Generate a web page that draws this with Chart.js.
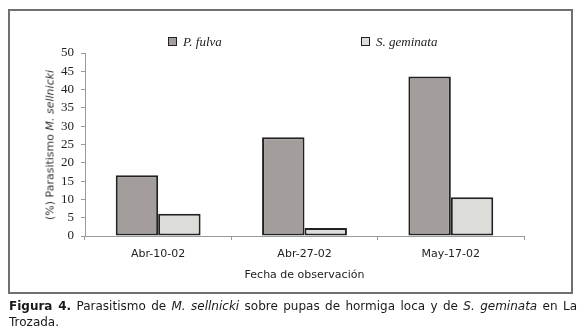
<!DOCTYPE html>
<html lang="es">
<head>
    <meta charset="UTF-8">
    <title>Figura 4</title>
    <script src="https://cdn.jsdelivr.net/npm/chart.js"></script>
    <style>
        body {
            margin: 0;
            width: 580px;
            height: 335px;
            background: #fff;
            position: relative;
            overflow: hidden;
            font-family: "DejaVu Sans", Verdana, sans-serif;
            color: #222;
        }
        .frame {
            position: absolute;
            left: 8px;
            top: 9px;
            width: 561px;
            height: 281px;
            border: 2px solid #707070;
        }
        .chart-box {
            position: absolute;
            left: 0;
            top: 0;
            width: 580px;
            height: 300px;
        }
        .legend-item {
            position: absolute;
            top: 35px;
            font-family: "Liberation Serif", serif;
            font-style: italic;
            font-size: 13px;
            line-height: 14px;
            white-space: nowrap;
        }
        .legend-item span.box {
            display: inline-block;
            width: 7px;
            height: 7px;
            border: 1px solid #222;
            margin-right: 6px;
            vertical-align: 0px;
        }
        .y-title {
            position: absolute;
            left: 50px;
            top: 145px;
            transform: translate(-50%, -50%) rotate(-90deg);
            font-size: 11px;
            font-weight: normal;
            white-space: nowrap;
            color: #333;
        }
        .caption {
            position: absolute;
            left: 9px;
            top: 298px;
            width: 568px;
            font-size: 12px;
            line-height: 16px;
            text-align: justify;
            text-align-last: left;
            color: #1a1a1a;
        }
    </style>
</head>
<body>
    <div class="frame"></div>
    <div class="chart-box"><canvas id="chart" width="580" height="300"></canvas></div>
    <div id="legend"></div>
    <div class="y-title">(%) Parasitismo <i>M. sellnicki</i></div>
    <div class="caption"><b>Figura 4.</b> Parasitismo de <i>M. sellnicki</i> sobre pupas de hormiga loca y de <i>S. geminata</i> en La Trozada.</div>

    <script>
        const categories = ['Abr-10-02', 'Abr-27-02', 'May-17-02'];
        const seriesNames = ['P. fulva', 'S. geminata'];
        const pFulva = [16.6, 27.0, 43.6];
        const sGeminata = [6.1, 2.2, 10.6];
        const yMin = 0;
        const yMax = 50;
        const yStep = 5;

        const colors = ['#a39e9b', '#dcdcd8'];
        const legendX = [168, 361];

        // legend as plain html, Excel style: items spread across the top
        const legend = document.getElementById('legend');
        seriesNames.forEach((name, i) => {
            const item = document.createElement('div');
            item.className = 'legend-item';
            item.style.left = legendX[i] + 'px';
            item.innerHTML = '<span class="box" style="background:' + colors[i] + '"></span>' + name;
            legend.appendChild(item);
        });

        const axisGray = '#9a9a9a';

        new Chart(document.getElementById('chart'), {
            type: 'bar',
            data: {
                labels: categories,
                datasets: [
                    {
                        label: seriesNames[0],
                        data: pFulva,
                        backgroundColor: colors[0],
                        borderColor: '#222',
                        borderWidth: 2,
                        borderSkipped: false
                    },
                    {
                        label: seriesNames[1],
                        data: sGeminata,
                        backgroundColor: colors[1],
                        borderColor: '#222',
                        borderWidth: 2,
                        borderSkipped: false
                    }
                ]
            },
            options: {
                responsive: false,
                animation: false,
                categoryPercentage: 0.58,
                barPercentage: 1.0,
                layout: {
                    padding: { left: 0, right: 56, top: 53, bottom: 0 }
                },
                plugins: {
                    legend: { display: false },
                    tooltip: { enabled: false }
                },
                scales: {
                    x: {
                        afterFit(scale) { scale.height = 64; },
                        grid: {
                            offset: true,
                            drawOnChartArea: false,
                            tickLength: 4,
                            color: axisGray
                        },
                        border: { color: axisGray, width: 1 },
                        ticks: {
                            padding: 8,
                            color: '#222',
                            font: { family: 'DejaVu Sans', size: 11 }
                        },
                        title: {
                            display: true,
                            text: 'Fecha de observación',
                            color: '#222',
                            font: { family: 'DejaVu Sans', size: 11 },
                            padding: { top: 4, bottom: 18 }
                        }
                    },
                    y: {
                        min: yMin,
                        max: yMax,
                        afterFit(scale) { scale.width = 85; },
                        grid: {
                            drawOnChartArea: false,
                            tickLength: 4,
                            color: axisGray
                        },
                        border: { color: axisGray, width: 1 },
                        ticks: {
                            stepSize: yStep,
                            autoSkip: false,
                            padding: 7,
                            color: '#222',
                            font: { family: 'Liberation Serif', size: 13, lineHeight: 1 }
                        }
                    }
                }
            }
        });
    </script>
</body>
</html>
